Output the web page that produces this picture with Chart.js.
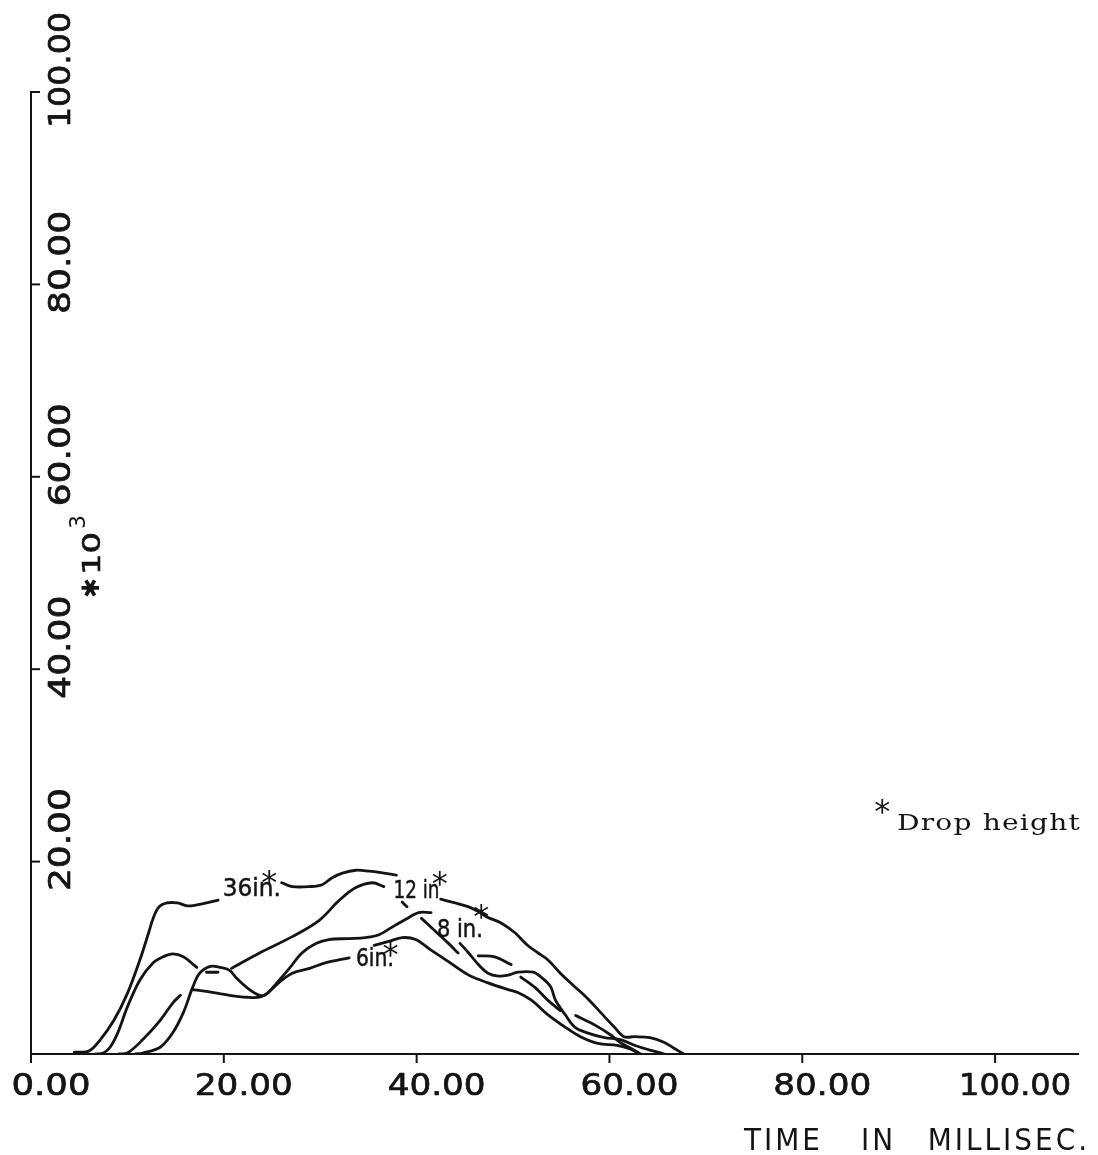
<!DOCTYPE html>
<html>
<head>
<meta charset="utf-8">
<title>Drop height curves</title>
<script src="https://cdn.jsdelivr.net/npm/chart.js@4.4.1/dist/chart.umd.min.js"></script>
<style>
  html, body { margin: 0; padding: 0; background: #fff; }
  #wrap { position: relative; width: 1098px; height: 1155px; }
</style>
</head>
<body>
<div id="wrap"><canvas id="chart"></canvas></div>
<script>
// axis ticks
const xTicks = [0, 20, 40, 60, 80, 100];
const yTicks = [20, 40, 60, 80, 100];

// time in ms / value *10^3. null = pen lifted (gap)
const time36 = [4.5, 6.0, 7.2, 8.6, 10.0, 11.3, 12.2, 12.6, 13.2, 14.1, 15.2, 16.2, 17.2, 18.2, 19.4, null,
  26.0, 27.1, 28.9, 30.2, 31.2, 32.3, 33.7, 35.1, 36.6, 37.9, null,
  42.5, 44.0, 45.4, 46.4, 47.4, 48.8, 50.2, 51.5, 52.6, 53.6, 54.9, 56.4, 57.7, 59.1, 60.5, 61.5, 62.6, 64.2, 65.7, 66.7, 67.7];
const val36 = [0.2, 0.3, 1.5, 3.5, 6.3, 9.8, 12.6, 13.9, 15.2, 15.7, 15.7, 15.4, 15.5, 15.7, 16.0, null,
  17.8, 17.4, 17.4, 17.6, 18.3, 18.8, 19.1, 19.0, 18.8, 18.6, null,
  16.1, 15.7, 15.3, 14.8, 14.2, 13.6, 12.6, 11.3, 10.5, 9.8, 8.4, 7.0, 5.8, 4.3, 2.8, 1.8, 1.8, 1.7, 1.2, 0.6, 0.0];

const time12 = [6.7, 7.5, 8.2, 9.0, 10.0, 11.3, 12.7, 13.7, 14.7, 15.8, 17.2, null, 18.2, 19.4, null,
  20.8, 23.7, 27.1, 29.9, 32.0, 33.7, 35.4, 36.6, null, 38.5, 39.0, null,
  40.5, 42.0, 43.3, 44.3, null, 46.4, 48.1, 49.8, null, 50.8, 52.3, 53.6, 54.9, null,
  56.5, 58.5, 60.1, 61.1, 62.2, 63.2];
const val12 = [0, 0.1, 0.7, 2.2, 4.9, 7.7, 9.5, 10.1, 10.4, 10.1, 9.0, null, 8.5, 8.5, null,
  8.9, 10.5, 12.2, 13.9, 16.0, 17.3, 17.8, 17.4, null, 15.8, 15.3, null,
  14.1, 12.7, 11.5, 10.5, null, 10.2, 10.1, 9.3, null, 8.0, 6.9, 5.6, 4.5, null,
  4.0, 3.0, 2.0, 1.2, 0.6, 0];

const time8 = [10.8, 11.6, 13.4, 14.7, 15.8, 16.8, 17.5, 18.6, 19.6, 20.6, 21.3, 22.4, 23.7, 24.4, 25.5, 26.8,
  28.1, 29.6, 30.9, 33.0, 34.7, 36.1, 37.8, 39.2, 40.2, 41.5, null,
  44.5, 45.4, 46.4, 47.4, 48.5, 49.5, 50.5, 52.1, 52.9, 53.9, 54.4, 55.4, 56.4, 57.7, 59.5, 61.1, 62.9, 64.2, 65.7];
const val8 = [0, 0.1, 0.7, 2.2, 4.3, 7.0, 8.4, 9.1, 9.0, 8.7, 7.9, 6.9, 6.1, 6.2, 7.4, 8.9,
  10.5, 11.5, 11.9, 12.0, 12.1, 12.4, 13.4, 14.2, 14.7, 14.7, null,
  11.5, 10.5, 9.3, 8.4, 8.1, 8.2, 8.5, 8.5, 8.0, 7.0, 5.6, 4.1, 2.8, 2.2, 1.7, 1.5, 0.8, 0.4, 0];

const time6 = [9.1, 10.0, 11.6, 13.4, 14.7, 15.5, null, 16.7, 18.2, 20.6, 22.4, 23.7, 24.5, 25.8, 27.1, 28.9, 30.6, 33.0, null,
  35.6, 37.1, 38.5, 39.9, 41.5, 43.3, 45.4, 47.4, 49.5, 50.5, 51.9, 53.6, 55.4, 57.0, 58.8, 60.8, 62.2, 63.2];
const val6 = [0, 0.1, 1.5, 3.5, 5.3, 6.1, null, 6.7, 6.5, 6.1, 5.9, 5.9, 6.3, 7.5, 8.4, 8.9, 9.5, 10.0, null,
  11.3, 11.7, 12.1, 11.9, 10.8, 9.6, 8.2, 7.4, 6.7, 6.4, 5.6, 4.1, 2.8, 1.8, 1.1, 0.9, 0.5, 0];

// hand lettering on the curves, placed in data units
const curveNotes = [
  { text: '36in.', t: 19.9, v: 16.4, w: 58 },
  { text: '12 in', t: 37.6, v: 16.2, w: 46 },
  { text: '8 in.', t: 42.1, v: 12.2, w: 46 },
  { text: '6in.', t: 33.7, v: 9.1, w: 38 }
];
const stars = [[24.7, 18.6], [42.4, 18.5], [46.7, 15.0], [37.3, 11.1], [88.3, 25.9]];

const INK = '#141414';

function toPoints(times, vals) {
  let last = 0;
  return times.map(function(t, i) {
    if (t !== null) last = t;
    return { x: last, y: vals[i] };
  });
}

function curve(times, vals) {
  return {
    data: toPoints(times, vals),
    borderColor: INK,
    borderWidth: 2.8,
    pointRadius: 0,
    tension: 0.35,
    spanGaps: false,
    borderCapStyle: 'round',
    borderJoinStyle: 'round',
    fill: false
  };
}

// draw text squeezed/stretched to a given width, with a thin outline to thicken it
function fitText(ctx, text, x, y, width, align, bold) {
  const w = ctx.measureText(text).width;
  const k = width / w;
  ctx.save();
  ctx.translate(x, y);
  ctx.scale(k, 1);
  ctx.textAlign = align || 'center';
  ctx.fillText(text, 0, 0);
  if (bold) {
    ctx.lineWidth = bold;
    ctx.strokeText(text, 0, 0);
  }
  ctx.restore();
}

function star(ctx, cx, cy, size) {
  ctx.save();
  ctx.font = size + 'px "DejaVu Sans"';
  ctx.textAlign = 'center';
  ctx.textBaseline = 'alphabetic';
  ctx.fillText('*', cx, cy + size * 0.55);
  ctx.restore();
}

const paperPlugin = {
  id: 'paper',
  beforeDraw(chart) {
    const ctx = chart.ctx;
    ctx.save();
    ctx.fillStyle = '#fff';
    ctx.fillRect(0, 0, chart.width, chart.height);
    ctx.restore();
  },
  afterDraw(chart) {
    const ctx = chart.ctx;
    const xs = chart.scales.x, ys = chart.scales.y;
    const x0 = xs.getPixelForValue(0), y0 = ys.getPixelForValue(0);
    ctx.save();
    ctx.strokeStyle = INK;
    ctx.fillStyle = INK;
    ctx.lineWidth = 2;

    // tick marks: x ticks hang down, y ticks point into the plot
    xTicks.forEach(function(v) {
      const px = xs.getPixelForValue(v);
      ctx.beginPath(); ctx.moveTo(px, y0); ctx.lineTo(px, y0 + 9); ctx.stroke();
    });
    yTicks.forEach(function(v) {
      const py = ys.getPixelForValue(v);
      ctx.beginPath(); ctx.moveTo(x0, py); ctx.lineTo(x0 + 9, py); ctx.stroke();
    });

    // tick labels
    ctx.font = '30px "DejaVu Sans"';
    ctx.textBaseline = 'alphabetic';
    xTicks.forEach(function(v) {
      const s = v.toFixed(2);
      fitText(ctx, s, xs.getPixelForValue(v) + 20, y0 + 41, s.length * 19 + (v >= 100 ? -2 : 3), 'center', 0.7);
    });
    yTicks.forEach(function(v) {
      const s = v.toFixed(2);
      ctx.save();
      ctx.translate(x0 + 39, ys.getPixelForValue(v) - 22);
      ctx.rotate(-Math.PI / 2);
      fitText(ctx, s, 0, 0, s.length * 19 + (v >= 100 ? 2 : 8), 'center', 0.7);
      ctx.restore();
    });

    // y unit  *10^3 (reads bottom to top)
    ctx.save();
    ctx.translate(x0 + 69, ys.getPixelForValue(47.2));
    ctx.rotate(-Math.PI / 2);
    ctx.textAlign = 'left';
    ctx.font = 'bold 24px "DejaVu Sans"';
    ctx.fillText('\u2731', 2, -1);
    ctx.font = '25px "DejaVu Sans"';
    fitText(ctx, '10', 25, 0, 43, 'left', 0.6);
    ctx.font = '22px "DejaVu Sans"';
    ctx.fillText('3', 71, -15);
    ctx.restore();

    // axis title, three words spread like the original lettering
    ctx.font = '31px "DejaVu Sans Condensed", "DejaVu Sans"';
    ctx.textAlign = 'left';
    ctx.letterSpacing = '3px';
    ctx.fillText('TIME', 744, 1150);
    ctx.fillText('IN', 861, 1150);
    const mw = ctx.measureText('MILLISEC.').width;
    ctx.fillText('MILLISEC.', 1090 - mw, 1150);
    ctx.letterSpacing = '0px';

    // curve labels
    ctx.font = '24px "DejaVu Sans"';
    curveNotes.forEach(function(n) {
      fitText(ctx, n.text, xs.getPixelForValue(n.t), ys.getPixelForValue(n.v), n.w, 'left', 0.5);
    });
    stars.forEach(function(s) {
      star(ctx, xs.getPixelForValue(s[0]), ys.getPixelForValue(s[1]), 32);
    });

    // footnote
    ctx.font = '23px "DejaVu Serif"';
    ctx.letterSpacing = '1px';
    fitText(ctx, 'Drop height', 897, ys.getPixelForValue(23.3), 184, 'left');
    ctx.letterSpacing = '0px';
    ctx.restore();
  }
};

new Chart(document.getElementById('chart'), {
  type: 'line',
  data: {
    datasets: [
      curve(time36, val36),
      curve(time12, val12),
      curve(time8, val8),
      curve(time6, val6)
    ]
  },
  options: {
    responsive: true,
    maintainAspectRatio: false,
    animation: false,
    layout: { padding: { left: 31, right: 20, top: 92, bottom: 101 } },
    plugins: { legend: { display: false }, tooltip: { enabled: false } },
    scales: {
      x: {
        type: 'linear', min: 0, max: 108.6,
        grid: { display: false, drawTicks: false },
        border: { display: true, color: INK, width: 2 },
        ticks: { display: false },
        afterFit: function(s) { s.height = 0; }
      },
      y: {
        type: 'linear', min: 0, max: 100,
        grid: { display: false, drawTicks: false },
        border: { display: true, color: INK, width: 2 },
        ticks: { display: false },
        afterFit: function(s) { s.width = 0; }
      }
    }
  },
  plugins: [paperPlugin]
});
</script>
</body>
</html>
